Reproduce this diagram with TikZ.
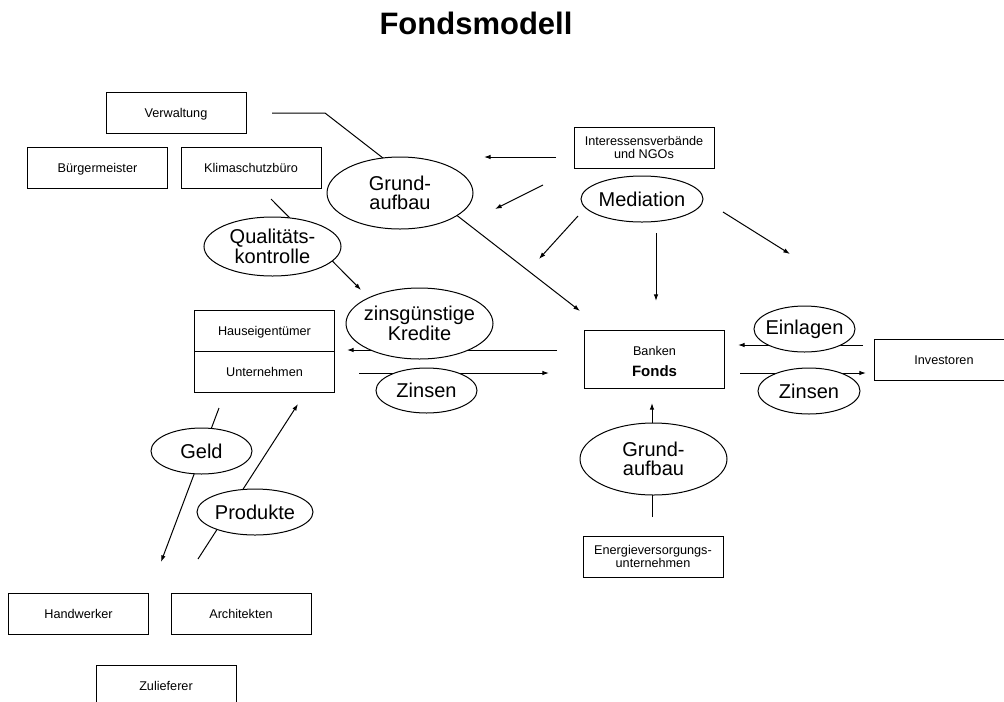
\documentclass[tikz,border=0pt]{standalone}
\usepackage{fontspec}
\setmainfont{Liberation Sans}
\usetikzlibrary{shapes.geometric,arrows.meta}

\tikzset{every picture/.style={line width=0.75pt}}
\tikzset{
  box/.style={draw, minimum width=105pt, minimum height=30.75pt, inner sep=0pt, align=center, font=\fontsize{9.5}{9.75}\selectfont},
  boxline/.style={box, text height=7pt, text depth=0pt},
  bubble/.style={draw, ellipse, fill=white, inner xsep=-6pt, inner ysep=0pt, align=center, font=\fontsize{15}{14.6}\selectfont},
  arr/.style={-{Latex[length=5pt,width=3.4pt]}}
}

\begin{document}
\begin{tikzpicture}[x=0.75pt,y=0.75pt,yscale=-1,xscale=1]
%set diagram left start at 0, and has height of 701
\useasboundingbox (0,0) rectangle (1004,701);

% Text Node
\node[font=\fontsize{23.25}{28}\selectfont\bfseries, anchor=base] (titel) at (476,34) {Fondsmodell};

%Shape: Rectangle
\node[boxline] (verwaltung) at (176,113) {Verwaltung};
%Shape: Rectangle
\node[boxline] (buergermeister) at (97.5,167.5) {Bürgermeister};
%Shape: Rectangle
\node[boxline] (klimabuero) at (251,167.5) {Klimaschutzbüro};
%Shape: Rectangle
\node[box] (verbaende) at (644,147.5) {Interessensverbände\\und NGOs};
%Shape: Rectangle
\node[boxline] (hauseigentuemer) at (264.5,330.5) {Hauseigentümer};
%Shape: Rectangle
\node[boxline] (unternehmen) at (264.5,371.5) {Unternehmen};
%Shape: Rectangle
\node[box, minimum height=43.5pt] (fonds) at (654.5,359) {\rule{0pt}{11.3pt}Banken\\[6pt]{\fontsize{11.25}{12}\selectfont\bfseries Fonds}};
%Shape: Rectangle
\node[boxline] (investoren) at (944,359.5) {Investoren};
%Shape: Rectangle
\node[box] (energie) at (653,556.5) {Energieversorgungs-\\unternehmen};
%Shape: Rectangle
\node[boxline] (handwerker) at (78.5,613.5) {Handwerker};
%Shape: Rectangle
\node[boxline] (architekten) at (241,613.5) {Architekten};
%Shape: Rectangle
\node[boxline] (zulieferer) at (166,685.5) {Zulieferer};

% free line ends
\coordinate (v1) at (272,113);
\coordinate (v2) at (325,113);
\coordinate (v3) at (580,311);
\coordinate (k1) at (271,199);
\coordinate (k2) at (361,290);
\coordinate (kr1) at (557,350);
\coordinate (kr2) at (347,350);
\coordinate (zl1) at (359,373);
\coordinate (zl2) at (549,373);
\coordinate (e1) at (863,345);
\coordinate (e2) at (738,345);
\coordinate (zr1) at (740,373);
\coordinate (zr2) at (866,373);
\coordinate (m1) at (556,157);
\coordinate (m2) at (484,157);
\coordinate (m3) at (543,185);
\coordinate (m4) at (495,209);
\coordinate (m5) at (578,216);
\coordinate (m6) at (539,259);
\coordinate (m7) at (656,233);
\coordinate (m8) at (656,301);
\coordinate (m9) at (723,212);
\coordinate (m10) at (790,254);
\coordinate (g1) at (652,517);
\coordinate (g2) at (652,403);
\coordinate (gd1) at (219,408);
\coordinate (gd2) at (161,562);
\coordinate (p1) at (198,559);
\coordinate (p2) at (298,404);

%Straight Lines
\draw[arr] (v1) -- (v2) -- (v3);
%Straight Lines
\draw[arr] (k1) -- (k2);
%Straight Lines
\draw[arr] (kr1) -- (kr2);
%Straight Lines
\draw[arr] (zl1) -- (zl2);
%Straight Lines
\draw[arr] (e1) -- (e2);
%Straight Lines
\draw[arr] (zr1) -- (zr2);
%Straight Lines
\draw[arr] (m1) -- (m2);
%Straight Lines
\draw[arr] (m3) -- (m4);
%Straight Lines
\draw[arr] (m5) -- (m6);
%Straight Lines
\draw[arr] (m7) -- (m8);
%Straight Lines
\draw[arr] (m9) -- (m10);
%Straight Lines
\draw[arr] (g1) -- (g2);
%Straight Lines
\draw[arr] (gd1) -- (gd2);
%Straight Lines
\draw[arr] (p1) -- (p2);

%Shape: Ellipse
\node[bubble, minimum width=109.5pt, minimum height=54pt] (grundaufbau) at (400,193) {Grund-\\aufbau};
%Shape: Ellipse
\node[bubble, minimum width=91.5pt, minimum height=34.5pt] (mediation) at (642,199) {Mediation};
%Shape: Ellipse
\node[bubble, minimum width=102.75pt, minimum height=44.25pt] (qualitaet) at (272.5,246.5) {Qualitäts-\\kontrolle};
%Shape: Ellipse
\node[bubble, minimum width=110.25pt, minimum height=53.25pt] (kredite) at (419.5,323.5) {zinsgünstige\\Kredite};
%Shape: Ellipse
\node[bubble, minimum width=75.75pt, minimum height=33.75pt] (zinsenlinks) at (426.5,390.5) {Zinsen};
%Shape: Ellipse
\node[bubble, minimum width=75.75pt, minimum height=34.5pt] (einlagen) at (804.5,329) {Einlagen};
%Shape: Ellipse
\node[bubble, minimum width=76.5pt, minimum height=34.5pt] (zinsenrechts) at (809,391) {Zinsen};
%Shape: Ellipse
\node[bubble, minimum width=75.75pt, minimum height=34.5pt] (geld) at (201.5,451) {Geld};
%Shape: Ellipse
\node[bubble, minimum width=87pt, minimum height=34.5pt] (produkte) at (255,512) {Produkte};
%Shape: Ellipse
\node[bubble, minimum width=110.25pt, minimum height=54pt] (grundaufbauunten) at (653.5,459) {Grund-\\aufbau};

\end{tikzpicture}
\end{document}
